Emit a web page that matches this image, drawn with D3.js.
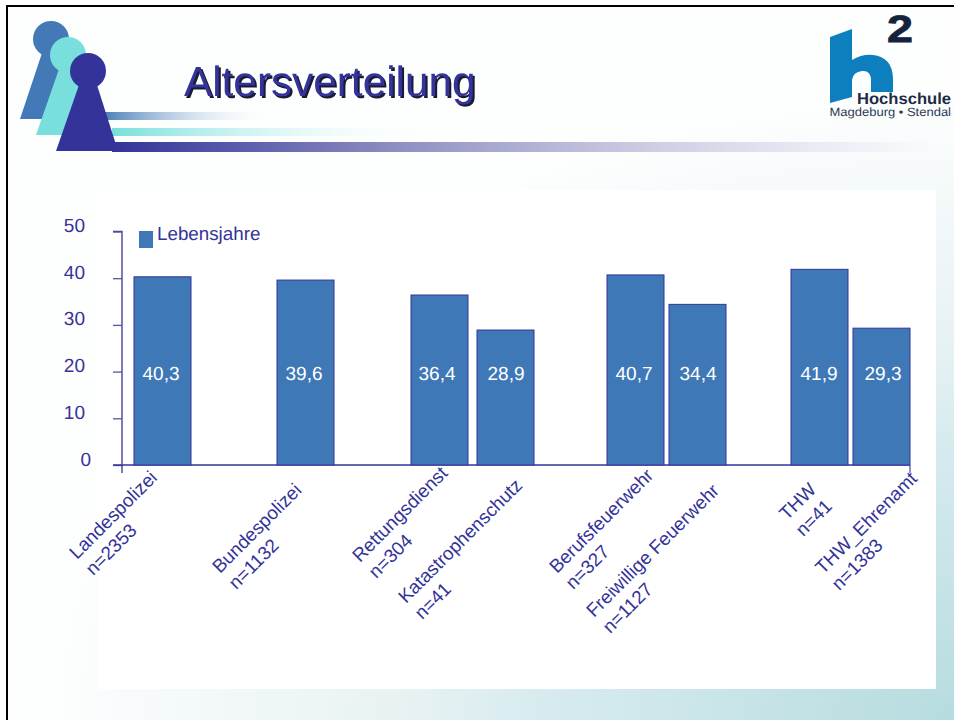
<!DOCTYPE html>
<html><head><meta charset="utf-8">
<script src="https://cdn.jsdelivr.net/npm/d3@7/dist/d3.min.js"></script>
<style>html,body{margin:0;padding:0;background:#fff;overflow:hidden}svg{display:block}text{font-family:"Liberation Sans",Arial,sans-serif;text-rendering:geometricPrecision}</style>
</head><body><svg id="c" width="954" height="720"></svg>
<script>
const categories = ["Landespolizei","Bundespolizei","Rettungsdienst","Katastrophenschutz","Berufsfeuerwehr","Freiwillige Feuerwehr","THW","THW_Ehrenamt"];
const sampleSizes = ["n=2353","n=1132","n=304","n=41","n=327","n=1127","n=41","n=1383"];
const values = [40.3,39.6,36.4,28.9,40.7,34.4,41.9,29.3];
const yTicks = [0,10,20,30,40,50];
const seriesName = "Lebensjahre";
const titleText = "Altersverteilung";

const ink = "#333399", barFill = "#3f78b6";
const svg = d3.select("#c");
const defs = svg.append("defs");
function grad(id,x1,y1,x2,y2,stops){
  const g = defs.append("linearGradient").attr("id",id).attr("x1",x1).attr("y1",y1).attr("x2",x2).attr("y2",y2);
  stops.forEach(s=>g.append("stop").attr("offset",s[0]).attr("stop-color",s[1]).attr("stop-opacity",s[2]===undefined?1:s[2]));
}
const bgGrad = defs.append("radialGradient").attr("id","bg").attr("gradientUnits","userSpaceOnUse")
  .attr("cx",0).attr("cy",0).attr("r",1).attr("gradientTransform","translate(954,720) scale(900,620)");
[[0,"#b6dcdf"],[0.48,"#d9ecf0"],[0.615,"#e8f2f3"],[0.85,"#f4f9fa"],[1,"#fdfefe"]]
  .forEach(s=>bgGrad.append("stop").attr("offset",s[0]).attr("stop-color",s[1]));
grad("b1",0,0,1,0,[[0,"#4279b6"],[1,"#ffffff",0]]);
grad("b2",0,0,1,0,[[0,"#78dfdc"],[1,"#ffffff",0]]);
grad("b3",0,0,1,0,[[0,"#333399"],[0.35,"#8f8fc2"],[1,"#fbfbfd",0.6]]);

// slide
svg.append("rect").attr("width",954).attr("height",720).attr("fill","url(#bg)");
svg.append("rect").attr("x",0).attr("y",0).attr("width",6).attr("height",720).attr("fill","#fff");
svg.append("rect").attr("x",0).attr("y",0).attr("width",954).attr("height",5).attr("fill","#fff");
svg.append("path").attr("d","M7 720V6H954").attr("fill","none").attr("stroke","#000").attr("stroke-width",2);

// decorative bands
svg.append("rect").attr("x",100).attr("y",112).attr("width",175).attr("height",8).attr("fill","url(#b1)");
svg.append("rect").attr("x",112).attr("y",128).attr("width",325).attr("height",8).attr("fill","url(#b2)");
svg.append("rect").attr("x",112).attr("y",142).attr("width",825).attr("height",10).attr("fill","url(#b3)");

// pawns
function pawn(cx,cy,baseL,baseR,baseY,col){
  const g = svg.append("g").attr("fill",col);
  g.append("circle").attr("cx",cx).attr("cy",cy).attr("r",18);
  g.append("path").attr("d",`M${cx-9} ${cy+14}L${baseL} ${baseY}H${baseR}L${cx+9} ${cy+14}Z`);
}
pawn(51,39,20,82,119,"#4279b6");
pawn(68,55,36,98,135,"#78dfdc");
pawn(88,71,56,118,151,ink);

// title
svg.append("text").attr("x",184).attr("y",96).attr("font-size",42.3).attr("fill",ink)
  .style("filter","drop-shadow(2px 2px 0 #1a1a33)").text(titleText);

// logo
const logo = svg.append("g");
logo.append("path").attr("fill","#0e7fbe")
  .attr("d","M830 37L852 29V60Q862 54 873 55Q892 57 893 78V92H871V79Q870 70 862 71Q853 72 852 80V97L830 103Z");
logo.append("text").attr("x",887).attr("y",42).attr("font-size",38).attr("font-weight",700).attr("textLength",26)
  .attr("lengthAdjust","spacingAndGlyphs").attr("stroke","#14233c").attr("stroke-width",0.8).attr("fill","#14233c").text("2");
logo.append("text").attr("x",857).attr("y",104).attr("font-size",16).attr("font-weight",700).attr("textLength",94)
  .attr("lengthAdjust","spacingAndGlyphs").attr("fill","#1c2b44").text("Hochschule");
logo.append("text").attr("x",829.5).attr("y",116).attr("font-size",12).attr("textLength",121.5).attr("lengthAdjust","spacingAndGlyphs")
  .attr("fill","#2b3a55").text("Magdeburg • Stendal");

// chart panel
svg.append("rect").attr("x",97).attr("y",190).attr("width",839).attr("height",499).attr("fill","#fff");

// scales
const y = d3.scaleLinear().domain([0,50]).range([465,231.5]);
const barWidth = 57;
const xLeft = d3.scaleOrdinal().domain(categories).range([134,277,411,477,607,669,791,853]);
const valueX = d3.scaleOrdinal().domain(categories).range([161,304,437,506,634,698,819,883]);
const labelX = d3.scaleOrdinal().domain(categories).range([77,220,360,406,557,594,787,823]);
const labelY = d3.scaleOrdinal().domain(categories).range([560,574,563,604,574,618,521,575]);

// axes
const yAxis = d3.axisLeft(y).tickValues(yTicks).tickSize(9).tickPadding(0).tickFormat(d3.format("d"));
const ga = svg.append("g").attr("transform","translate(122,0)").call(yAxis);
ga.select(".domain").attr("stroke",ink).attr("stroke-width",1.3).attr("d",`M-9 ${y(50)}H0V473`);
ga.selectAll(".tick line").attr("stroke","#5555a8").attr("stroke-width",1.3);
ga.selectAll(".tick text").attr("font-family",null).attr("font-size",19).attr("fill",ink)
  .attr("text-anchor","end").attr("x",d=>d===0?-31:-37).attr("dy",null).attr("y",0);
svg.append("line").attr("x1",113).attr("x2",910).attr("y1",y(0)).attr("y2",y(0)).attr("stroke",ink).attr("stroke-width",1.3);
svg.append("line").attr("x1",910).attr("x2",910).attr("y1",y(0)).attr("y2",473).attr("stroke","#5555a8").attr("stroke-width",1.3);

// bars
const rows = categories.map((c,i)=>({c,n:sampleSizes[i],v:values[i]}));
svg.append("g").selectAll("rect").data(rows).join("rect")
  .attr("x",d=>xLeft(d.c)).attr("y",d=>y(d.v)).attr("width",barWidth).attr("height",d=>y(0)-y(d.v))
  .attr("fill",barFill).attr("stroke",ink).attr("stroke-width",1);
svg.append("g").selectAll("text").data(rows).join("text")
  .attr("x",d=>valueX(d.c)).attr("y",380).attr("text-anchor","middle")
  .attr("font-size",19).attr("fill","#fff").text(d=>String(d.v).replace(".",","));

// legend
svg.append("rect").attr("x",139).attr("y",231).attr("width",14).attr("height",17).attr("fill",barFill);
svg.append("text").attr("x",157).attr("y",240).attr("font-size",18.8).attr("fill",ink).text(seriesName);

// category labels
const lab = svg.append("g").selectAll("text").data(rows).join("text")
  .attr("transform",d=>`translate(${labelX(d.c)},${labelY(d.c)}) rotate(-45)`)
  .attr("font-size",18.8).attr("fill",ink);
lab.append("tspan").attr("x",0).attr("y",0).text(d=>d.c);
lab.append("tspan").attr("x",0).attr("y",23).text(d=>d.n);
</script></body></html>
